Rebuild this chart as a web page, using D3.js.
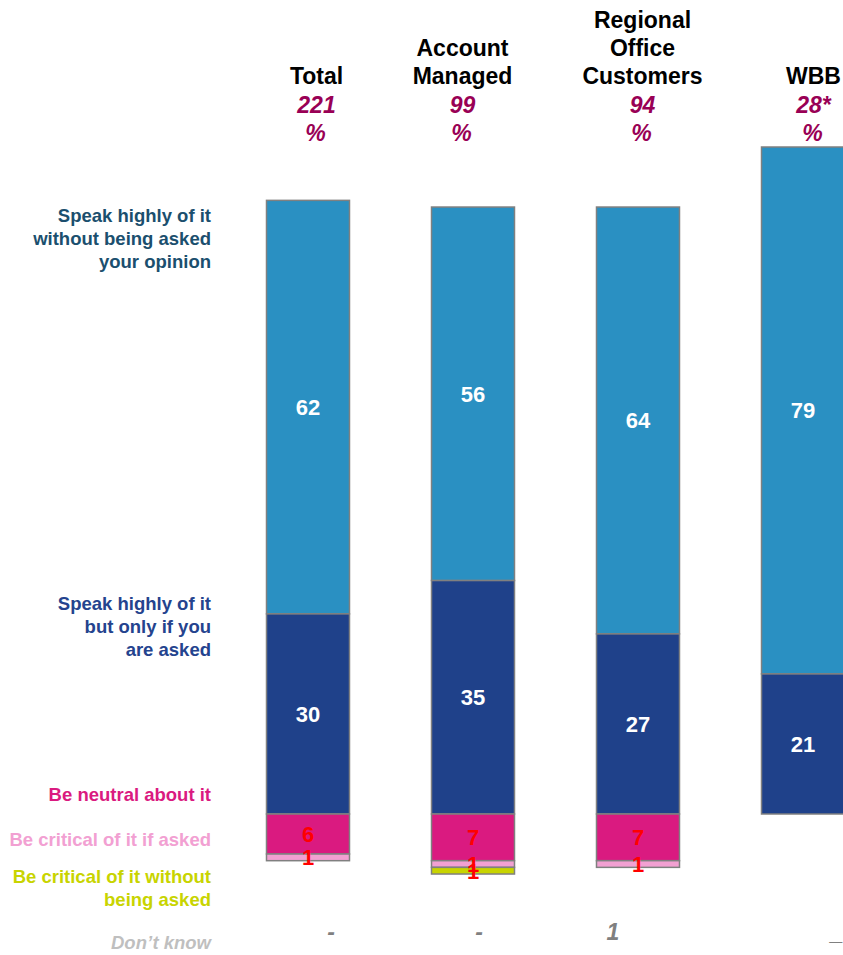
<!DOCTYPE html>
<html>
<head>
<meta charset="utf-8">
<script src="https://cdn.jsdelivr.net/npm/d3@7"></script>
<style>
  html, body { margin: 0; padding: 0; background: #fff; }
  svg { display: block; font-family: "Liberation Sans", Arial, sans-serif; }
</style>
</head>
<body>
<svg id="chart" width="843" height="955"></svg>
<script>
// Column headings, base sizes and the share of each answer (%)
const categories = ["Total", "Account Managed", "Regional Office Customers", "WBB"];
const headerLines = [["Total"], ["Account", "Managed"], ["Regional", "Office", "Customers"], ["WBB"]];
const bases = ["221", "99", "94", "28*"];

const speakUnasked = [62, 56, 64, 79];
const speakIfAsked = [30, 35, 27, 21];
const neutral = [6, 7, 7, 0];
const criticalIfAsked = [1, 1, 1, 0];
const criticalUnasked = [0, 1, 0, 0];
const dontKnow = ["-", "-", "1", "_"];

const answerLabels = [
  { lines: ["Speak highly of it", "without being asked", "your opinion"], color: "#1b4f6e", y: 222, italic: false },
  { lines: ["Speak highly of it", "but only if you", "are asked"], color: "#24438e", y: 610, italic: false },
  { lines: ["Be neutral about it"], color: "#da1a80", y: 801, italic: false },
  { lines: ["Be critical of it if asked"], color: "#f2a0d2", y: 846, italic: false },
  { lines: ["Be critical of it without", "being asked"], color: "#c8d400", y: 883, italic: false },
  { lines: ["Don\u2019t know"], color: "#bfbfbf", y: 949, italic: true }
];

const svg = d3.select("#chart");

// Bars stand on a shared baseline: favourable answers above, the rest below
const x = d3.scaleBand()
  .domain(categories)
  .range([225.5, 885.5])
  .paddingInner(0.497)
  .paddingOuter(0.2485);

const y = d3.scaleLinear().domain([0, 100]).range([814, 147]);

const above = [
  { key: "unasked", values: speakUnasked, fill: "#2a90c2", text: "#ffffff" },
  { key: "ifasked", values: speakIfAsked, fill: "#1f418a", text: "#ffffff" }
];
const below = [
  { key: "neutral", values: neutral, fill: "#da1a80", text: "#ff0000" },
  { key: "critAsked", values: criticalIfAsked, fill: "#f2a0d2", text: "#ff0000" },
  { key: "critUnasked", values: criticalUnasked, fill: "#c8d400", text: "#ff0000" }
];

const segments = [];
categories.forEach((c, i) => {
  // favourable answers: "unasked" sits on top of "if asked"
  const posTotal = above.reduce((s, a) => s + a.values[i], 0);
  let cursor = posTotal;
  above.forEach(a => {
    const v = a.values[i];
    if (v > 0) segments.push({ cat: c, v, y0: cursor, y1: cursor - v, fill: a.fill, text: a.text });
    cursor -= v;
  });
  // remaining answers hang below the baseline
  let neg = 0;
  below.forEach(b => {
    const v = b.values[i];
    if (v > 0) segments.push({ cat: c, v, y0: neg, y1: neg - v, fill: b.fill, text: b.text });
    neg -= v;
  });
});

const bars = svg.append("g");
bars.selectAll("rect")
  .data(segments)
  .join("rect")
  .attr("x", d => x(d.cat))
  .attr("width", x.bandwidth())
  .attr("y", d => y(Math.max(d.y0, d.y1)))
  .attr("height", d => Math.abs(y(d.y0) - y(d.y1)))
  .attr("fill", d => d.fill)
  .attr("stroke", "#808080")
  .attr("stroke-width", 1.5);

bars.selectAll("text")
  .data(segments)
  .join("text")
  .attr("x", d => x(d.cat) + x.bandwidth() / 2)
  .attr("y", d => y((d.y0 + d.y1) / 2))
  .attr("dy", "0.36em")
  .attr("text-anchor", "middle")
  .attr("font-size", 22)
  .attr("font-weight", "bold")
  .attr("fill", d => d.text)
  .text(d => d.v);

// Column headings
const headShift = [8.5, -10.5, 4.5, 10.5];
const head = svg.append("g").attr("text-anchor", "middle").attr("font-weight", "bold").attr("font-size", 23);
categories.forEach((c, i) => {
  const cx = x(c) + x.bandwidth() / 2 + headShift[i];
  const lines = headerLines[i];
  lines.forEach((ln, j) => {
    head.append("text")
      .attr("x", cx)
      .attr("y", 84 - (lines.length - 1 - j) * 28)
      .attr("fill", "#000")
      .text(ln);
  });
  head.append("text").attr("x", cx).attr("y", 113)
    .attr("fill", "#990055").attr("font-style", "italic").text(bases[i]);
  head.append("text").attr("x", cx - 1).attr("y", 141)
    .attr("fill", "#990055").attr("font-style", "italic").text("%");
});

// Don't know row
const dkShift = [23, 6, -25, 34];
svg.append("g")
  .selectAll("text")
  .data(categories)
  .join("text")
  .attr("x", (c, i) => x(c) + x.bandwidth() / 2 + dkShift[i])
  .attr("y", 940)
  .attr("text-anchor", "middle")
  .attr("font-size", 23)
  .attr("font-weight", "bold")
  .attr("font-style", "italic")
  .attr("fill", "#808080")
  .text((c, i) => dontKnow[i]);

// Answer labels on the left
const legend = svg.append("g").attr("text-anchor", "end").attr("font-weight", "bold").attr("font-size", 18.5);
answerLabels.forEach(a => {
  a.lines.forEach((ln, j) => {
    legend.append("text")
      .attr("x", 211)
      .attr("y", a.y + j * 23)
      .attr("fill", a.color)
      .attr("font-style", a.italic ? "italic" : "normal")
      .text(ln);
  });
});
</script>
</body>
</html>
